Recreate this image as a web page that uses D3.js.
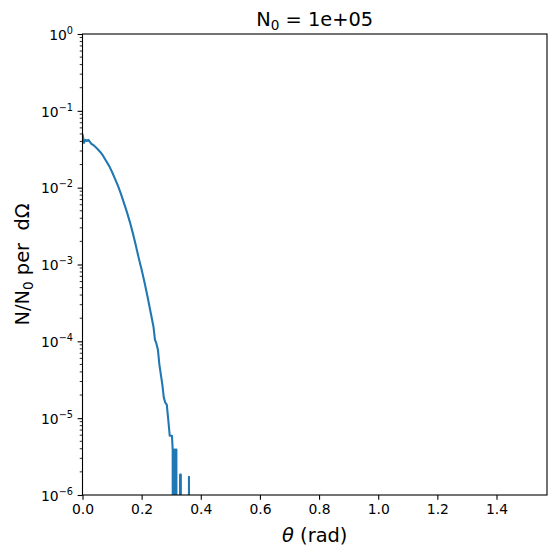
<!DOCTYPE html>
<html>
<head>
<meta charset="utf-8">
<script src="https://cdn.jsdelivr.net/npm/d3@7"></script>
<style>
  body { margin: 0; background: #fff; }
  text { font-family: "DejaVu Sans", sans-serif; fill: #000; }
</style>
</head>
<body>
<svg id="chart" width="556" height="556"></svg>
<script>
// scattering angle bins (rad) and N/N0 per dOmega
const theta = [
  0.000, 0.005, 0.010, 0.015, 0.020, 0.025, 0.030, 0.035, 0.040, 0.050,
  0.060, 0.070, 0.080, 0.090, 0.100, 0.110, 0.120, 0.130, 0.140, 0.150,
  0.160, 0.170, 0.180, 0.190, 0.200, 0.210, 0.220, 0.230, 0.240, 0.245,
  0.250, 0.255, 0.260, 0.265, 0.270, 0.275, 0.280, 0.285, 0.290, 0.295,
  0.3000, 0.3025, 0.3050, 0.3075, 0.3100, 0.3125, 0.3150, 0.3175, 0.3200, 0.3250,
  0.3275, 0.3300, 0.3325, 0.3350, 0.3500, 0.3575, 0.3600, 0.3625, 0.3700
];
const density = [
  0.0501, 0.0383, 0.0419, 0.0406, 0.0419, 0.0395, 0.0371, 0.0362, 0.0350, 0.0320,
  0.0292, 0.0259, 0.0223, 0.0192, 0.0160, 0.0130, 0.01055, 0.00830, 0.00634, 0.00484,
  0.00359, 0.00258, 0.00180, 0.00122, 0.000853, 0.000578, 0.000380, 0.000243, 0.000155, 0.000105,
  0.0000931, 0.0000778, 0.0000497, 0.0000368, 0.0000273, 0.0000185, 0.0000159, 0.0000150, 0.0000096, 0.0000059,
  0.0000059, 0.0000059, 0.0000039, 0, 0.0000039, 0, 0.0000039, 0.0000039, 0, 0,
  0, 0.00000184, 0.00000184, 0, 0, 0, 0.00000173, 0, 0
];

const xTicks = [0.0, 0.2, 0.4, 0.6, 0.8, 1.0, 1.2, 1.4];
const yExponents = [0, -1, -2, -3, -4, -5, -6];

const margin = { left: 82.5, right: 9, top: 34, bottom: 61 };
const width = 556, height = 556;
const tickFont = 13.9, labelFont = 19.4;

const svg = d3.select('#chart');

const x = d3.scaleLinear()
  .domain([0, Math.PI / 2])
  .range([margin.left, width - margin.right]);

const y = d3.scaleLog()
  .domain([1e-6, 1])
  .range([height - margin.bottom, margin.top]);

svg.append('defs').append('clipPath')
  .attr('id', 'plotclip')
  .append('rect')
  .attr('x', x.range()[0])
  .attr('y', y.range()[1])
  .attr('width', x.range()[1] - x.range()[0])
  .attr('height', y.range()[0] - y.range()[1]);

// empty bins go to -inf on the log axis, i.e. straight off the bottom
const line = d3.line()
  .x(i => x(theta[i]))
  .y(i => density[i] > 0 ? y(density[i]) : y.range()[0] + 800);

svg.append('path')
  .datum(d3.range(theta.length))
  .attr('clip-path', 'url(#plotclip)')
  .attr('fill', 'none')
  .attr('stroke', '#1f77b4')
  .attr('stroke-width', 2.08)
  .attr('stroke-linejoin', 'round')
  .attr('d', line);

// x axis
const xAxis = svg.append('g')
  .attr('transform', `translate(0,${y.range()[0]})`)
  .call(d3.axisBottom(x).tickValues(xTicks).tickFormat(d3.format('.1f')).tickSize(4.86).tickPadding(4.6));
xAxis.select('.domain').remove();
xAxis.selectAll('line').attr('stroke-width', 1.1);
xAxis.selectAll('text')
  .attr('font-size', tickFont)
  .attr('font-family', '"DejaVu Sans", sans-serif');

// y axis (log): major and minor ticks
const minor = [];
for (let e = -6; e < 0; e++) {
  for (let m = 2; m <= 9; m++) minor.push(m * Math.pow(10, e));
}
const yAxis = svg.append('g')
  .attr('transform', `translate(${x.range()[0]},0)`)
  .call(d3.axisLeft(y).tickValues(yExponents.map(e => Math.pow(10, e))).tickFormat('').tickSize(4.86));
yAxis.select('.domain').remove();
yAxis.selectAll('line').attr('stroke-width', 1.1);

svg.append('g')
  .selectAll('line')
  .data(minor)
  .join('line')
  .attr('x1', x.range()[0] - 2.78)
  .attr('x2', x.range()[0])
  .attr('y1', d => y(d))
  .attr('y2', d => y(d))
  .attr('stroke', '#000')
  .attr('stroke-width', 0.83);

const yLabels = svg.append('g')
  .selectAll('text')
  .data(yExponents)
  .join('text')
  .attr('x', x.range()[0] - 9.5)
  .attr('y', e => y(Math.pow(10, e)) + 5.8)
  .attr('text-anchor', 'end')
  .attr('font-size', tickFont);
yLabels.append('tspan').text('10');
yLabels.append('tspan')
  .attr('dy', -6)
  .attr('font-size', tickFont * 0.7)
  .text(e => e === 0 ? '0' : '\u2212' + (-e));

// frame
svg.append('rect')
  .attr('x', x.range()[0])
  .attr('y', y.range()[1])
  .attr('width', x.range()[1] - x.range()[0])
  .attr('height', y.range()[0] - y.range()[1])
  .attr('fill', 'none')
  .attr('stroke', '#000')
  .attr('stroke-width', 1.1);

// title
const cx = (x.range()[0] + x.range()[1]) / 2;
const title = svg.append('text')
  .attr('x', cx)
  .attr('y', 26)
  .attr('text-anchor', 'middle')
  .attr('font-size', labelFont);
title.append('tspan').text('N');
title.append('tspan').attr('dy', 3.8).attr('font-size', labelFont * 0.7).text('0');
title.append('tspan').attr('dy', -3.8).text(' = 1e+05');

// x label
const xl = svg.append('text')
  .attr('x', cx)
  .attr('y', 542)
  .attr('text-anchor', 'middle')
  .attr('font-size', labelFont);
xl.append('tspan').attr('font-style', 'italic').text('\u03b8');
xl.append('tspan').text(' (rad)');

// y label
const cy = (y.range()[0] + y.range()[1]) / 2;
const yl = svg.append('text')
  .attr('transform', `translate(29,${cy}) rotate(-90)`)
  .attr('text-anchor', 'middle')
  .attr('font-size', labelFont)
  .attr('xml:space', 'preserve');
yl.append('tspan').text('N/N');
yl.append('tspan').attr('dy', 3.8).attr('font-size', labelFont * 0.7).text('0');
yl.append('tspan').attr('dy', -3.8).text(' per  d\u03a9');
</script>
</body>
</html>
